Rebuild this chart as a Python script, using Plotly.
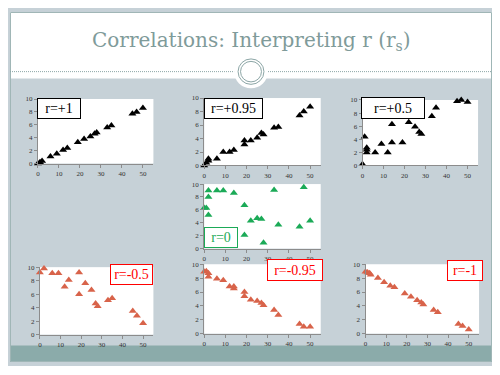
import plotly.graph_objects as go

# page body has an 8px margin; the figure fills the slide frame (8..492 x 8..366)
OX, OY = 8, 8
W, H = 484, 358

# ---- data ----
x_p100 = [0, 1, 2, 6, 9, 12, 14, 19, 22, 25, 27, 28, 33, 35, 45, 47, 50]
y_p100 = [0, 0.2, 0.4, 1.1, 1.5, 2.1, 2.4, 3.3, 3.8, 4.2, 4.6, 4.8, 5.6, 5.9, 7.7, 8.0, 8.6]

x_p095 = [0, 1, 2, 2, 6, 9, 12, 14, 19, 19, 22, 25, 27, 28, 33, 35, 45, 47, 50]
y_p095 = [0, 0.4, 0.7, 1.0, 1.0, 2.0, 2.0, 2.3, 3.7, 3.1, 3.7, 4.1, 4.8, 4.6, 5.6, 5.7, 7.4, 8.0, 8.7]

x_p050 = [0, 1, 2, 2, 2, 6, 9, 12, 14, 14, 19, 19, 22, 25, 27, 28, 33, 35, 45, 47, 50]
y_p050 = [0.2, 4.4, 2.7, 2.4, 2.0, 2.0, 3.3, 2.0, 3.5, 6.3, 3.5, 7.4, 6.6, 5.9, 5.1, 4.8, 7.5, 8.8, 9.8, 10.0, 9.7]

x_zero = [0, 1, 2, 2, 2, 6, 9, 14, 19, 19, 22, 25, 27, 28, 33, 35, 45, 47, 50]
y_zero = [6.3, 6.3, 9.0, 8.0, 5.2, 9.0, 9.0, 8.6, 6.7, 2.1, 4.3, 4.7, 4.6, 0.9, 9.1, 3.7, 3.4, 9.5, 4.3]

x_m050 = [0, 2, 6, 9, 12, 14, 19, 19, 22, 25, 27, 28, 33, 35, 45, 47, 50]
y_m050 = [9.2, 9.8, 9.1, 9.1, 7.1, 8.1, 9.2, 6.0, 7.6, 6.6, 4.6, 4.2, 5.1, 5.4, 3.5, 2.8, 1.7]

x_m095 = [0, 1, 2, 2, 6, 9, 12, 14, 14, 19, 19, 22, 25, 27, 28, 33, 35, 45, 47, 50]
y_m095 = [8.9, 9.0, 8.7, 8.2, 7.9, 7.7, 6.8, 6.8, 6.5, 6.0, 5.4, 4.9, 4.7, 4.4, 4.1, 3.4, 2.7, 1.4, 1.0, 1.0]

x_m100 = [0, 1, 2, 2.5, 6, 9, 12, 14, 19, 22, 25, 27, 28, 33, 35, 45, 47, 50]
y_m100 = [8.9, 8.8, 8.7, 8.5, 8.0, 7.4, 6.9, 6.7, 5.8, 5.3, 4.8, 4.5, 4.2, 3.4, 3.1, 1.4, 1.1, 0.6]

labels = ["r=+1", "r=+0.95", "r=+0.5", "r=0", "r=-0.5", "r=-0.95", "r=-1"]
x_ticks = [0, 10, 20, 30, 40, 50]
y_ticks = [0, 2, 4, 6, 8, 10]
title_text = "Correlations: Interpreting r (r<sub>s</sub>)"

BLACK = "#000000"
GREEN = "#1BAA57"
RED = "#D8634A"

series = [
    (x_p100, y_p100, BLACK),
    (x_p095, y_p095, BLACK),
    (x_p050, y_p050, BLACK),
    (x_zero, y_zero, GREEN),
    (x_m050, y_m050, RED),
    (x_m095, y_m095, RED),
    (x_m100, y_m100, RED),
]

# plot-area pixel boxes in window coords (left, right, top(y=10), bottom(y=0))
boxes = [
    (36, 152, 97, 163),
    (203, 320, 96, 165),
    (362, 478, 98, 165),
    (203, 320, 184, 250),
    (38, 152, 269, 338),
    (203, 320, 266, 337),
    (365, 479, 266, 337),
]

# label boxes (left, top, width, height, text color, border color)
label_boxes = [
    (35, 96, 44, 21, BLACK, BLACK),
    (203, 96, 59, 21, BLACK, BLACK),
    (360, 95, 64, 22, BLACK, BLACK),
    (203, 228, 34, 21, GREEN, GREEN),
    (108, 266, 43, 21, "#FF0000", "#FF0000"),
    (266, 261, 56, 22, "#FF0000", "#FF0000"),
    (447, 262, 36, 21, "#FF0000", "#FF0000"),
]

def px(x):
    return (x - OX) / W

def py(y):
    return 1 - (y - OY) / H

fig = go.Figure()
layout = {}
annotations = []

for i, ((xs, ys, col), (l, r, t, b)) in enumerate(zip(series, boxes)):
    n = i + 1
    xa = "x" if n == 1 else f"x{n}"
    ya = "y" if n == 1 else f"y{n}"
    fig.add_trace(go.Scatter(
        x=xs, y=ys, mode="markers", xaxis=xa, yaxis=ya,
        marker=dict(symbol="triangle-up", size=7, color=col, line=dict(width=0)),
        cliponaxis=False, showlegend=False, hoverinfo="skip",
    ))
    axcommon = dict(showgrid=False, zeroline=False, showline=True,
                    linecolor="#8C8C8C", linewidth=1, ticks="outside",
                    ticklen=3, tickcolor="#8C8C8C",
                    tickfont=dict(family="Liberation Serif", size=7, color="#333333"),
                    fixedrange=True)
    layout["xaxis" if n == 1 else f"xaxis{n}"] = dict(
        domain=[px(l), px(r)], range=[0, 55], tickvals=x_ticks,
        anchor=ya, **axcommon)
    layout["yaxis" if n == 1 else f"yaxis{n}"] = dict(
        domain=[py(b), py(t)], range=[0, 10], tickvals=y_ticks,
        anchor=xa, **axcommon)

for text, (l, t, w, h, tc, bc) in zip(labels, label_boxes):
    annotations.append(dict(
        text=text, xref="paper", yref="paper", x=px(l), y=py(t),
        xanchor="left", yanchor="top", showarrow=False,
        width=w - 2, height=h - 2, align="center", valign="middle",
        bgcolor="white", bordercolor=bc, borderwidth=1, borderpad=0,
        font=dict(family="Liberation Serif", size=14, color=tc),
    ))

annotations.append(dict(
    text=title_text, xref="paper", yref="paper", x=px(250), y=py(38),
    xanchor="center", yanchor="middle", showarrow=False,
    font=dict(family="DejaVu Serif", size=20, color="#7F9B9A"),
))

GRAY = "#C6D1D7"
TEAL = "#8BABAA"
FRAME = "#9FB6B6"
RING = "#8CA6A6"

shapes = [
    # white title region
    dict(type="rect", xref="paper", yref="paper", x0=0, x1=1, y0=py(76), y1=1,
         fillcolor="white", line=dict(width=0), layer="below"),
    # teal band
    dict(type="rect", xref="paper", yref="paper", x0=0, x1=1,
         y0=0, y1=py(349), fillcolor=TEAL, line=dict(width=0), layer="below"),
    # frame
    dict(type="rect", xref="paper", yref="paper", x0=0.5 / W, x1=1 - 0.5 / W,
         y0=0.5 / H, y1=1 - 0.5 / H, fillcolor="rgba(0,0,0,0)",
         line=dict(color=FRAME, width=1), layer="above"),
    # dotted divider
    dict(type="line", xref="paper", yref="paper", x0=0, x1=1,
         y0=py(69), y1=py(69), line=dict(color=RING, width=1, dash="1px,1px"),
         layer="above"),
    # white disc with double ring
    dict(type="circle", xref="paper", yref="paper", x0=px(250 - 17), x1=px(250 + 17),
         y0=py(69 + 17), y1=py(69 - 17), fillcolor="white",
         line=dict(width=0), layer="above"),
    dict(type="circle", xref="paper", yref="paper", x0=px(250 - 13), x1=px(250 + 13),
         y0=py(69 + 13), y1=py(69 - 13), fillcolor="rgba(0,0,0,0)",
         line=dict(color=RING, width=1), layer="above"),
    dict(type="circle", xref="paper", yref="paper", x0=px(250 - 10.5), x1=px(250 + 10.5),
         y0=py(69 + 10.5), y1=py(69 - 10.5), fillcolor="rgba(0,0,0,0)",
         line=dict(color=RING, width=1), layer="above"),
]

fig.update_layout(
    width=W, height=H, margin=dict(l=0, r=0, t=0, b=0),
    paper_bgcolor=GRAY, plot_bgcolor="white",
    shapes=shapes, annotations=annotations, showlegend=False,
    **layout,
)

fig.write_html("out.html", config={"displayModeBar": False})
